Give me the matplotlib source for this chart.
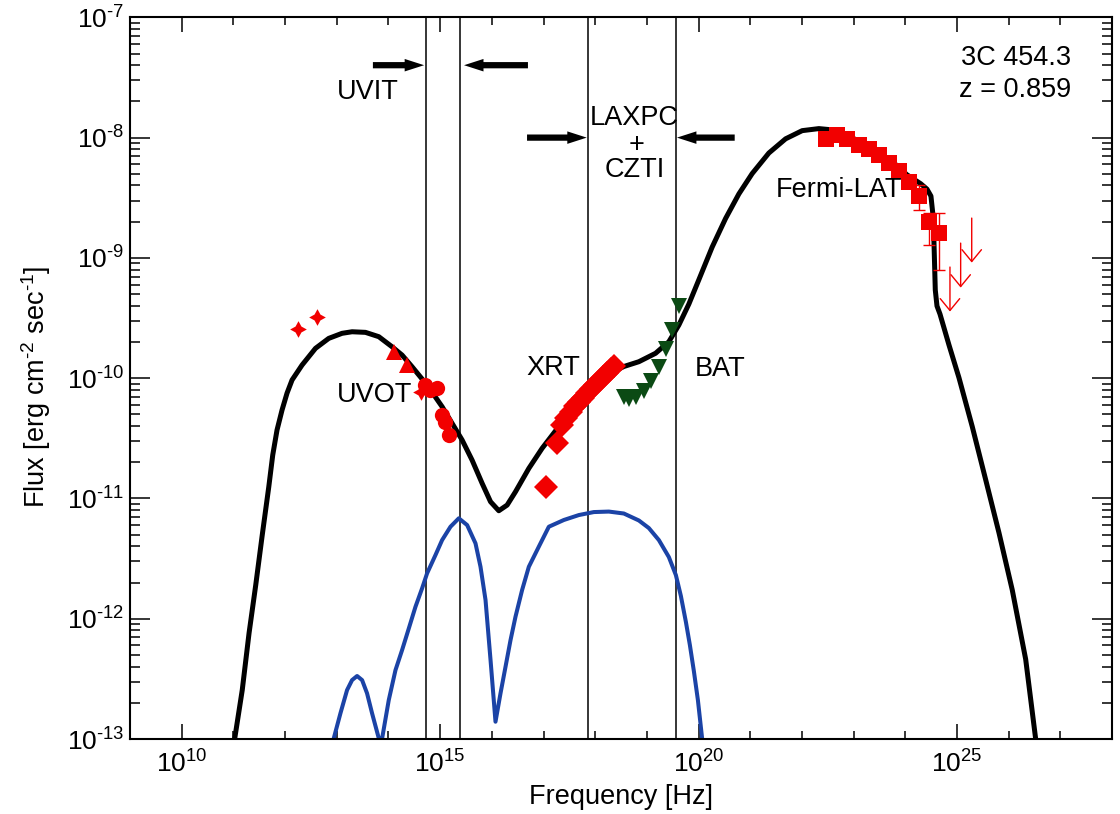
import matplotlib
matplotlib.use('Agg')
import matplotlib.pyplot as plt
import numpy as np
from matplotlib.ticker import FixedLocator, LogLocator, FuncFormatter, NullFormatter

# ---------------- data (log10 nu [Hz], log10 flux [erg cm^-2 s^-1]) ----------------
model_lognu = [11.006, 11.171, 11.303, 11.432, 11.558, 11.684, 11.761, 11.844, 11.941,
               12.038, 12.135, 12.328, 12.588, 12.845, 13.102, 13.296, 13.555, 13.813,
               14.070, 14.264, 14.457, 14.747, 15.038, 15.231, 15.425, 15.618, 15.812,
               15.975, 16.135, 16.296, 16.458, 16.716, 16.973, 17.393, 17.683, 17.974,
               18.264, 18.554, 18.845, 19.168, 19.425, 19.619, 19.812, 20.006, 20.263,
               20.523, 20.780, 21.037, 21.360, 21.684, 22.005, 22.328, 22.619, 22.909,
               23.199, 23.489, 23.780, 24.032, 24.297, 24.419, 24.496, 24.535, 24.555,
               24.580, 24.613, 24.671, 24.845, 25.038, 25.295, 25.555, 25.812, 26.069,
               26.329, 26.522, 26.547]
model_logf = [-13.050, -12.593, -12.119, -11.720, -11.304, -10.905, -10.639, -10.431, -10.265,
              -10.124, -10.015, -9.891, -9.752, -9.669, -9.627, -9.614, -9.619, -9.655,
              -9.739, -9.808, -9.905, -10.057, -10.237, -10.375, -10.514, -10.681, -10.874,
              -11.027, -11.102, -11.055, -10.944, -10.750, -10.583, -10.348, -10.198, -10.065,
              -9.966, -9.903, -9.863, -9.793, -9.697, -9.558, -9.384, -9.181, -8.910,
              -8.672, -8.468, -8.299, -8.128, -8.010, -7.942, -7.925, -7.937, -7.987,
              -8.053, -8.128, -8.211, -8.309, -8.383, -8.428, -8.486, -8.644, -8.876,
              -9.267, -9.400, -9.467, -9.724, -9.996, -10.402, -10.844, -11.285, -11.760,
              -12.337, -12.999, -13.075]

comp_lognu = [12.884, 12.942, 13.071, 13.199, 13.296, 13.393, 13.490, 13.586, 13.683,
              13.813, 13.832, 14.006, 14.136, 14.264, 14.394, 14.523, 14.651, 14.747,
              14.910, 15.038, 15.200, 15.361, 15.522, 15.684, 15.781, 15.878, 15.975,
              16.071, 16.168, 16.265, 16.362, 16.458, 16.586, 16.716, 16.909, 17.103,
              17.393, 17.683, 17.974, 18.264, 18.554, 18.845, 19.038, 19.232, 19.425,
              19.561, 19.658, 19.755, 19.832, 19.909, 19.987, 20.070, 20.103]
comp_logf = [-13.090, -12.994, -12.786, -12.593, -12.510, -12.476, -12.510, -12.620, -12.786,
             -12.994, -13.108, -12.676, -12.427, -12.260, -12.080, -11.900, -11.747, -11.623,
             -11.470, -11.346, -11.235, -11.165, -11.221, -11.373, -11.568, -11.844, -12.343,
             -12.856, -12.620, -12.399, -12.177, -11.983, -11.761, -11.568, -11.401, -11.235,
             -11.179, -11.138, -11.113, -11.109, -11.125, -11.183, -11.246, -11.346, -11.487,
             -11.637, -11.811, -12.027, -12.219, -12.435, -12.676, -13.000, -13.108]

star_lognu = [12.252, 12.619, 14.620]
star_logf = [-9.591, -9.489, -10.113]

uvot_tri_lognu = [14.103, 14.360]
uvot_tri_logf = [-9.780, -9.891]

uvot_circ_lognu = [14.703, 14.813, 14.941, 15.038, 15.103, 15.167]
uvot_circ_logf = [-10.057, -10.099, -10.085, -10.307, -10.362, -10.473]

xrt_lognu = [17.040, 17.252, 17.354, 17.432, 17.529, 17.606, 17.683, 17.761, 17.838,
             17.916, 17.993, 18.070, 18.148, 18.225, 18.303, 18.361]
xrt_logf = [-10.903, -10.542, -10.390, -10.331, -10.282, -10.232, -10.198, -10.165, -10.123,
            -10.090, -10.057, -10.024, -9.990, -9.957, -9.924, -9.899]

bat_lognu = [18.554, 18.651, 18.786, 18.941, 19.077, 19.232, 19.367, 19.489, 19.619]
bat_logf = [-10.157, -10.174, -10.157, -10.107, -10.024, -9.910, -9.758, -9.600, -9.400]

lat_lognu = [22.458, 22.682, 22.876, 23.102, 23.296, 23.489, 23.683, 23.876, 24.070,
             24.264, 24.457, 24.651]
lat_logf = [-8.010, -7.976, -8.010, -8.061, -8.095, -8.146, -8.214, -8.281, -8.366,
            -8.485, -8.705, -8.791]

# error bars on the last three LAT points (log10 of lower / upper ends)
lat_err_lognu = [24.264, 24.457, 24.651]
lat_err_logf = [-8.485, -8.705, -8.791]
lat_err_lo = [-8.602, -8.891, -9.101]
lat_err_hi = [-8.393, -8.627, -8.627]

ul_lognu = [24.864, 25.071, 25.285]
ul_logf = [-9.076, -8.877, -8.669]

band_edges = [5.21e14, 2.37e15, 7.30e17, 3.59e19]

# ---------------- styling ----------------
plt.rcParams['font.family'] = 'Liberation Sans'
plt.rcParams['mathtext.fontset'] = 'custom'
plt.rcParams['mathtext.rm'] = 'Liberation Sans'
plt.rcParams['mathtext.it'] = 'Liberation Sans:italic'
plt.rcParams['mathtext.bf'] = 'Liberation Sans:bold'

P = lambda a: 10 ** np.asarray(a, dtype=float)

fig = plt.figure(figsize=(11.2, 8.14), dpi=100)
ax = fig.add_axes([0.1161, 0.0921, 0.8768, 0.8866])
ax.set_xscale('log')
ax.set_yscale('log')
ax.set_xlim(1e9, 1e28)
ax.set_ylim(1e-13, 1e-7)

red = '#f20000'
green = '#0b4a14'
blue = '#1b43a6'

for v in band_edges:
    ax.axvline(v, color='k', lw=1.1, zorder=1)

ax.plot(P(comp_lognu), P(comp_logf), color=blue, lw=2.9, zorder=2,
        solid_joinstyle='round', solid_capstyle='round')
ax.plot(P(model_lognu), P(model_logf), color='k', lw=3.6, zorder=3,
        solid_joinstyle='round', solid_capstyle='round')

ax.plot(P(star_lognu), P(star_logf), ls='none', marker=(4, 1, 0), ms=12, color=red, mew=0, zorder=5)
ax.plot(P(uvot_tri_lognu), P(uvot_tri_logf), ls='none', marker='^', ms=11.5, color=red, mew=0, zorder=5)
ax.plot(P(uvot_circ_lognu), P(uvot_circ_logf), ls='none', marker='o', ms=11, color=red, mew=0, zorder=5)
ax.plot(P(xrt_lognu), P(xrt_logf), ls='none', marker='D', ms=12, color=red, mew=0, zorder=5)
ax.plot(P(bat_lognu), P(bat_logf), ls='none', marker='v', ms=11, color=green, mew=0, zorder=5)

lat_f = P(lat_err_logf)
ax.errorbar(P(lat_err_lognu), lat_f,
            yerr=[lat_f - P(lat_err_lo), P(lat_err_hi) - lat_f],
            fmt='none', ecolor=red, elinewidth=1, capsize=4, capthick=1, zorder=4)
ax.plot(P(lat_lognu), P(lat_logf), ls='none', marker='s', ms=11, color=red, mew=0, zorder=5)

for lx, ly in zip(ul_lognu, ul_logf):
    ax.annotate('', xy=(10 ** lx, 10 ** (ly - 0.37)), xytext=(10 ** lx, 10 ** ly),
                arrowprops=dict(arrowstyle='->,head_length=0.85,head_width=0.7',
                                color=red, lw=1.0, shrinkA=0, shrinkB=0), zorder=5)

# instrument band arrows
arr = dict(arrowstyle='simple,head_length=1.4,head_width=0.9,tail_width=0.45',
           mutation_scale=10, fc='k', ec='k', lw=0, shrinkA=0, shrinkB=1)
ax.annotate('', xy=(band_edges[0], 4e-8), xytext=(5e13, 4e-8), arrowprops=arr)
ax.annotate('', xy=(band_edges[1] * 1.15, 4e-8), xytext=(5e16, 4e-8), arrowprops=arr)
ax.annotate('', xy=(band_edges[2], 1e-8), xytext=(4.8e16, 1e-8), arrowprops=arr)
ax.annotate('', xy=(band_edges[3], 1e-8), xytext=(5e20, 1e-8), arrowprops=arr)

fs = 19.5
def T(lx, ly, s, **kw):
    ax.text(10 ** lx, 10 ** ly, s, fontsize=fs, ha='center', va='center', zorder=6, **kw)

T(13.604, -7.619, 'UVIT')
T(18.748, -7.840, 'LAXPC')
T(18.793, -8.062, '+')
T(18.758, -8.270, 'CZTI')
T(13.731, -10.140, 'UVOT')
T(17.194, -9.916, 'XRT')
T(20.426, -9.920, 'BAT')
T(22.716, -8.439, 'Fermi-LAT')

ax.text(0.958, 0.944, '3C 454.3', transform=ax.transAxes, fontsize=fs, ha='right', va='center')
ax.text(0.958, 0.899, 'z = 0.859', transform=ax.transAxes, fontsize=fs, ha='right', va='center')

# ---------------- axes ----------------
def fmt(v, pos):
    e = int(round(np.log10(v)))
    if e < 0:
        return r'$10^{\text{-}%d}$' % (-e)
    return r'$10^{%d}$' % e

ax.xaxis.set_major_locator(FixedLocator([1e10, 1e15, 1e20, 1e25]))
ax.xaxis.set_minor_locator(FixedLocator([10.0 ** k for k in range(9, 29)]))
ax.xaxis.set_major_formatter(FuncFormatter(fmt))
ax.xaxis.set_minor_formatter(NullFormatter())
ax.yaxis.set_major_locator(FixedLocator([10.0 ** k for k in range(-13, -6)]))
ax.yaxis.set_minor_locator(LogLocator(base=10, subs=np.arange(2, 10), numticks=100))
ax.yaxis.set_major_formatter(FuncFormatter(fmt))
ax.yaxis.set_minor_formatter(NullFormatter())

ax.tick_params(which='both', direction='in', top=True, right=True, color='k')
ax.tick_params(axis='x', which='major', length=10.8, width=1.1, pad=8, labelsize=19)
ax.tick_params(axis='x', which='minor', length=5.5, width=1.1)
ax.tick_params(axis='y', which='major', length=14.4, width=1.1, pad=4, labelsize=19)
ax.tick_params(axis='y', which='minor', length=7.2, width=1.1)
for s in ax.spines.values():
    s.set_linewidth(1.5)

ax.set_xlabel('Frequency [Hz]', fontsize=fs)
ax.set_ylabel(r'Flux [erg cm$^{\text{-}2}$ sec$^{\text{-}1}$]', fontsize=fs)
ax.xaxis.set_label_coords(0.5, -0.062)
ax.yaxis.set_label_coords(-0.078, 0.488)

fig.savefig('out.png', dpi=100)
